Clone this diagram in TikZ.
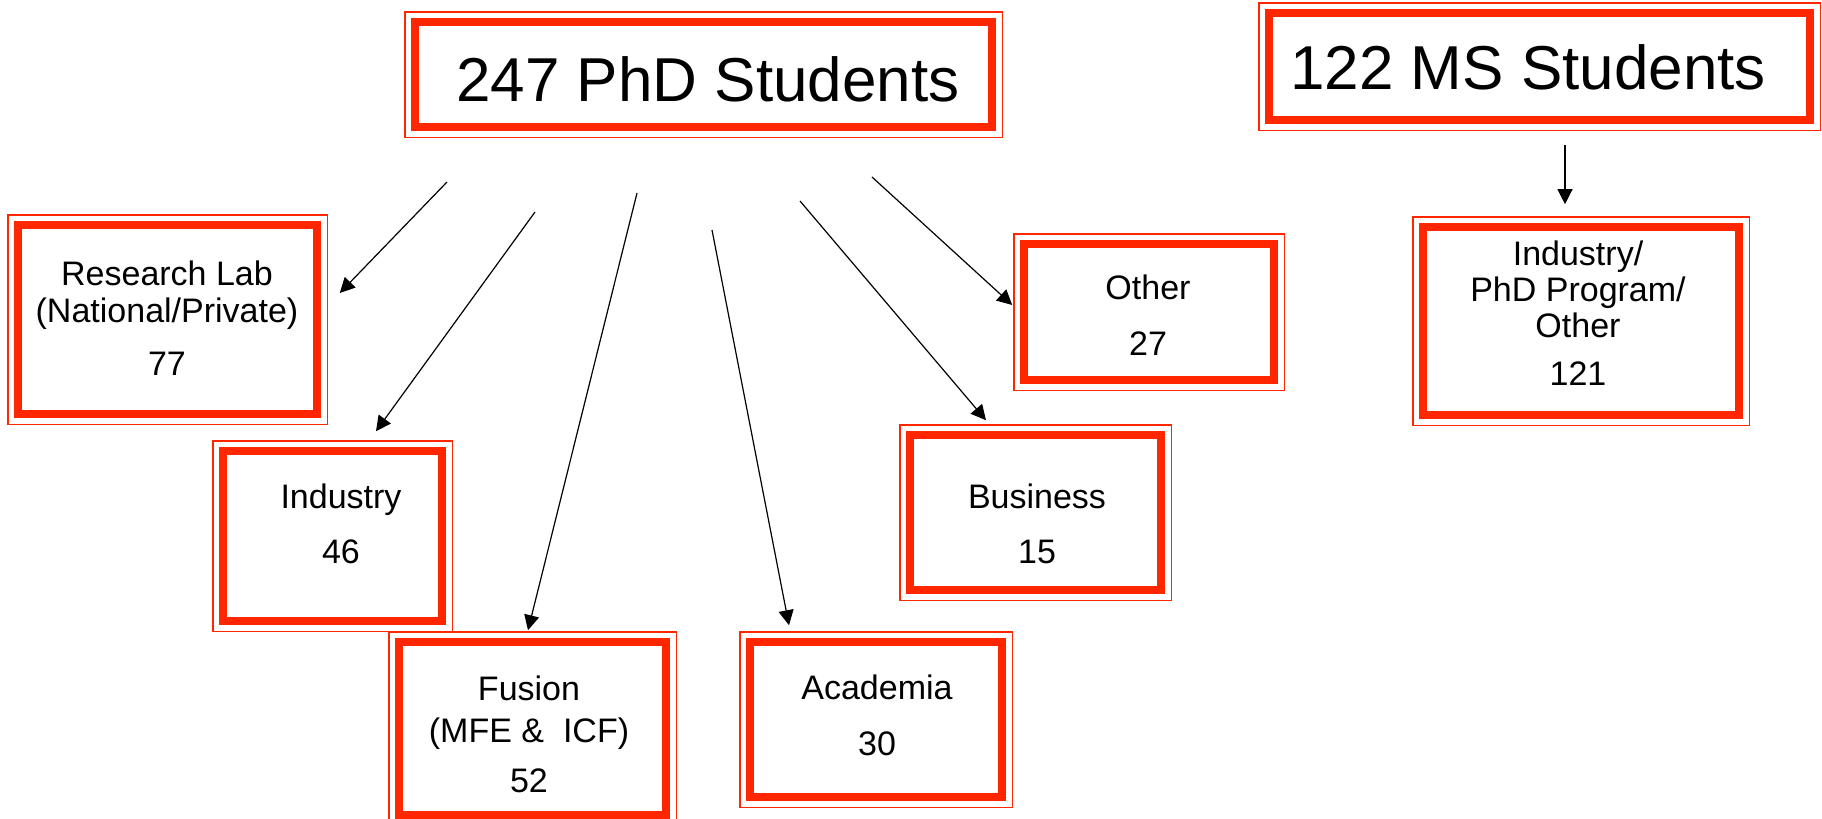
\documentclass[tikz,border=0pt]{standalone}
\usepackage{fontspec}
\setmainfont{Liberation Sans}
\usetikzlibrary{arrows.meta}
\definecolor{boxred}{RGB}{255,38,0}
\tikzset{
  box/.style={draw=boxred,line width=3.8pt,inner sep=0pt},
  rim/.style={draw=boxred,line width=0.7pt},
  head/.style={font=\fontsize{31}{36}\selectfont},
  txt/.style={align=center,font=\fontsize{17}{18.5}\selectfont},
  arr/.style={-{Triangle[length=7.5pt,width=7.5pt]},line width=0.6pt}
}
\begin{document}
\begin{tikzpicture}[x=0.5pt,y=-0.5pt]
  \useasboundingbox (0,0) rectangle (1822,819);
  % boxes
  \node[box,minimum width=288.5pt,minimum height=52.5pt] (phd) at (703.5,74.5) {};
  \node[box,minimum width=270.5pt,minimum height=53.5pt] (ms) at (1539.5,66.5) {};
  \node[box,minimum width=149.5pt,minimum height=94.5pt] (rl) at (167.5,319.5) {};
  \node[box,minimum width=109.5pt,minimum height=85pt] (ind) at (332.5,536) {};
  \node[box,minimum width=133.5pt,minimum height=86.5pt] (fus) at (532.5,728.5) {};
  \node[box,minimum width=126pt,minimum height=77.5pt] (aca) at (876,719.5) {};
  \node[box,minimum width=125.5pt,minimum height=77.5pt] (bus) at (1035.5,512.5) {};
  \node[box,minimum width=125pt,minimum height=68pt] (oth) at (1149,312) {};
  \node[box,minimum width=158pt,minimum height=94pt] (msc) at (1581,321) {};
  \foreach \b in {phd,ms,rl,ind,fus,aca,bus,oth,msc}
    \draw[rim] ([shift={(-3.2pt,3.2pt)}]\b.north west) rectangle ([shift={(3.2pt,-3.2pt)}]\b.south east);
  % texts
  \node[head] (phd-t) at (708,79) {247 PhD Students};
  \node[head] (ms-t) at (1528,67) {122 MS Students};
  \node[txt] (rl-t) at (167,318) {Research Lab\\(National/Private)\\[8pt]77};
  \node[txt] (ind-t) at (341,524) {Industry\\[9pt]46};
  \node[txt] (fus-t) at (529,734) {Fusion\\[2.5pt](MFE \&\ \ ICF)\\[6.5pt]52};
  \node[txt] (aca-t) at (877,715.5) {Academia\\[9.5pt]30};
  \node[txt] (bus-t) at (1037,524) {Business\\[9pt]15};
  \node[txt] (oth-t) at (1148,315.5) {Other\\[9.5pt]27};
  \node[txt] (msc-t) at (1578,313.5) {Industry/\\[-0.5pt]PhD Program/\\[-0.5pt]Other\\[5.5pt]121};
  % arrows
  \coordinate (s1) at (447,182);
  \coordinate (s2) at (535,212);
  \coordinate (s3) at (637,193);
  \coordinate (s4) at (712,230);
  \coordinate (s5) at (800,201);
  \coordinate (s6) at (872,177);
  \coordinate (s7) at (1565,145);
  \draw[arr] (s1) -- ([shift={(19,-26.5)}]rl.east);
  \draw[arr] (s2) -- ([shift={(43.5,-16)}]ind.north);
  \draw[arr] (s3) -- ([shift={(-4.5,-8)}]fus.north);
  \draw[arr] (s4) -- ([shift={(-87,-13)}]aca.north);
  \draw[arr] (s5) -- ([shift={(-49.5,-11)}]bus.north);
  \draw[arr] (s6) -- ([shift={(-8,-7)}]oth.west);
  \draw[arr] (s7) -- ([shift={(-16,-19)}]msc.north);
\end{tikzpicture}
\end{document}
